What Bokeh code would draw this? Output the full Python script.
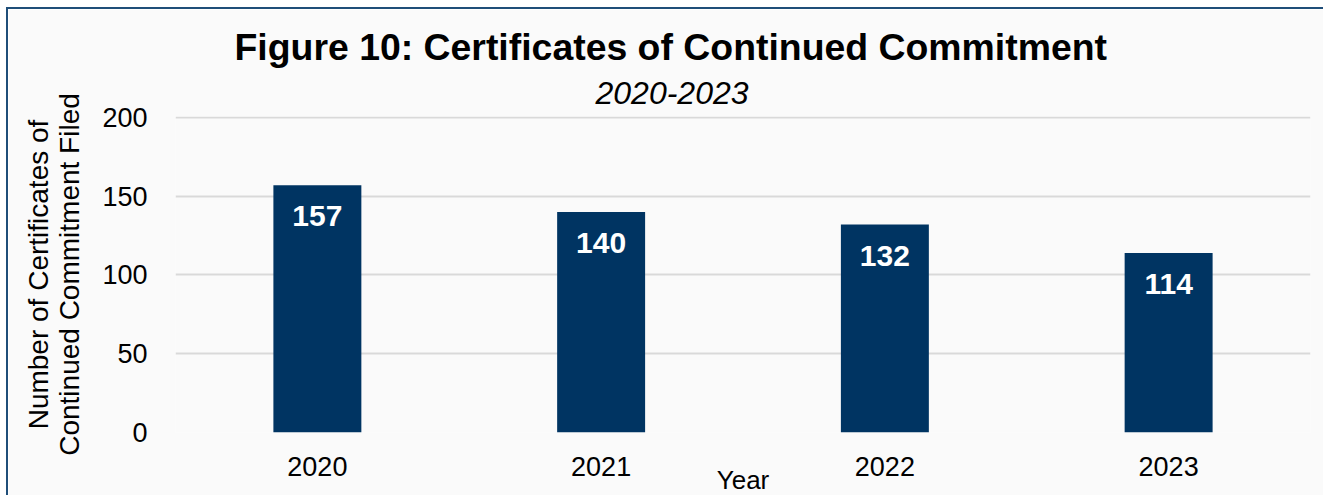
from bokeh.plotting import figure
from bokeh.models import ColumnDataSource, FixedTicker, Title
from bokeh.embed import file_html
from bokeh.resources import INLINE
from bokeh.core.properties import value

years = ["2020", "2021", "2022", "2023"]
counts = [157, 140, 132, 114]
y_ticks = [0, 50, 100, 150, 200]

FONT = "Liberation Sans"
BAR = "#003462"
EDGE = "#1f4e79"

src = ColumnDataSource(dict(x=years, top=counts, lab=[str(c) for c in counts]))

p = figure(x_range=years, y_range=(0, 200.625), width=1322, height=488,
           output_backend="svg", toolbar_location=None, title=None,
           min_border_left=167, min_border_right=20, min_border_top=107,
           min_border_bottom=60)
p.styles = {"margin-left": "6px", "margin-top": "7px",
            "border-left": f"2px solid {EDGE}", "border-top": f"2px solid {EDGE}"}
p.background_fill_color = "#fafafa"
p.border_fill_color = "#fafafa"
p.outline_line_color = None

p.vbar(x="x", top="top", width=0.31, source=src, fill_color=BAR, line_color=None)
p.text(x="x", y="top", text="lab", source=src, y_offset=31,
       text_align="center", text_baseline="middle", text_color="white",
       text_font=value(FONT), text_font_style="bold", text_font_size="30px")

p.xgrid.grid_line_color = None
p.ygrid.grid_line_color = "#d9d9d9"
p.ygrid.grid_line_width = 2
p.yaxis.ticker = FixedTicker(ticks=y_ticks)

for ax in (p.xaxis, p.yaxis):
    ax.axis_line_color = None
    ax.major_tick_line_color = None
    ax.minor_tick_line_color = None
    ax.major_label_text_font = FONT
    ax.major_label_text_font_size = "27px"
    ax.major_label_text_color = "black"
    ax.axis_label_text_font = FONT
    ax.axis_label_text_font_style = "normal"
    ax.axis_label_text_color = "black"
p.xaxis.major_label_standoff = 18
p.yaxis.major_label_standoff = 22

p.xaxis.axis_label = "Year"
p.xaxis.axis_label_text_font_size = "26px"
p.xaxis.axis_label_standoff = -14

p.yaxis.axis_label = "Number of Certificates of\nContinued Commitment Filed"
p.yaxis.axis_label_text_font_size = "28px"
p.yaxis.axis_label_text_line_height = 1.0
p.yaxis.axis_label_standoff = 14

p.add_layout(Title(text="2020-2023", align="left", text_font=FONT,
                   text_font_style="italic", text_font_size="32px",
                   text_color="black", standoff=25, offset=420), "above")
p.add_layout(Title(text="Figure 10: Certificates of Continued Commitment",
                   align="left", text_font=FONT, text_font_style="bold",
                   text_font_size="37.4px", text_color="black", standoff=0,
                   offset=59), "above")

open("out.html", "w").write(file_html(p, INLINE))
